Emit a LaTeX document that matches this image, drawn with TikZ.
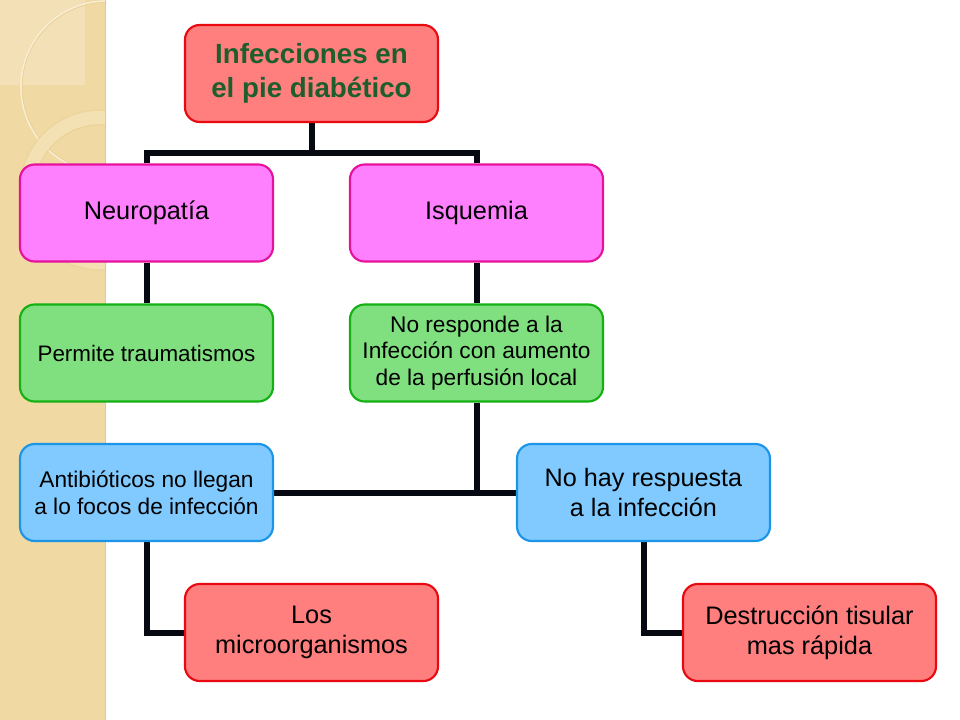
\documentclass[tikz,border=0pt]{standalone}
\usepackage{fontspec}
\setmainfont{Liberation Sans}
\definecolor{strip}{HTML}{F0D9A2}
\definecolor{stripl}{HTML}{F3E0B6}
\definecolor{redf}{HTML}{FF7F7F}
\definecolor{redd}{HTML}{E80A10}
\definecolor{pinkf}{HTML}{FF80FF}
\definecolor{pinkd}{HTML}{E6129C}
\definecolor{greenf}{HTML}{80E080}
\definecolor{greend}{HTML}{14B014}
\definecolor{bluef}{HTML}{80CAFF}
\definecolor{blued}{HTML}{1C94E8}
\definecolor{linec}{HTML}{060812}
\definecolor{titlec}{HTML}{1E5E2C}
\pgfdeclarelayer{bg}
\pgfdeclarelayer{lines}
\pgfsetlayers{bg,lines,main}
\tikzset{
  box/.style={rounded corners=11pt, line width=1.6pt, minimum width=189.75pt,
    minimum height=72.75pt, align=center, inner sep=2pt},
  redbox/.style={box, fill=redf, draw=redd},
  pinkbox/.style={box, fill=pinkf, draw=pinkd},
  greenbox/.style={box, fill=greenf, draw=greend},
  bluebox/.style={box, fill=bluef, draw=blued},
  conn/.style={draw=linec, line width=4.5pt, line join=miter},
  big/.style={font=\fontsize{19}{22.5}\selectfont},
  mid/.style={font=\fontsize{17}{20}\selectfont},
}
\begin{document}
\begin{tikzpicture}[x=0.75pt,y=-0.75pt]
\useasboundingbox (0,0) rectangle (960,720);
\begin{pgfonlayer}{bg}
  \fill[white] (0,0) rectangle (960,720);
  \fill[strip] (0,0) rectangle (106,720);
  \fill[stripl] (0,0) rectangle (85,85);
  \begin{scope}
    \clip (0,0) rectangle (106,720);
    \draw[white!55!strip, line width=1.2pt] (107,87) circle (86);
    \draw[strip!88!brown, line width=0.5pt] (107,87) circle (84.8);
    \draw[white!18!strip, line width=10pt] (100,190) circle (72.5);
    \draw[strip!88!brown, line width=0.5pt] (100,190) circle (65);
    \draw[strip!92!brown, line width=0.5pt] (100,190) circle (80);
  \end{scope}
  \draw[strip!80!brown, line width=0.8pt] (105.5,0) -- (105.5,720);
\end{pgfonlayer}

\node[redbox, font=\bfseries\fontsize{20.8}{25.5}\selectfont, text=titlec] (top) at (311.5,73.5) {Infecciones en\\el pie diabético};
\node[pinkbox, big] (neuro) at (146.5,213) {Neuropatía};
\node[pinkbox, big] (isq) at (476.5,213) {Isquemia};
\node[greenbox, font=\fontsize{16.8}{20}\selectfont] (perm) at (146.5,353) {Permite traumatismos};
\node[greenbox, mid] (resp) at (476.5,353) {No responde a la\\Infección con aumento\\de la perfusión local};
\node[bluebox, mid] (anti) at (146.5,492.5) {Antibióticos no llegan\\a lo focos de infección};
\node[bluebox, font=\fontsize{18.9}{22.5}\selectfont] (nohay) at (643.5,492.5) {No hay respuesta\\a la infección};
\node[redbox, big] (micro) at (311.5,632.5) {Los\\microorganismos};
\node[redbox, big] (destr) at (809.5,632.5) {Destrucción tisular\\mas rápida};

\coordinate (j1) at (311.5,153);
\begin{pgfonlayer}{lines}
  \draw[conn] (top.south) -- (j1);
  \draw[conn] (neuro.north) |- (j1) -| (isq.north);
  \draw[conn] (neuro.south) -- (perm.north);
  \draw[conn] (isq.south) -- (resp.north);
  \draw[conn] (resp.south) -- (resp.south |- anti.east);
  \draw[conn] (anti.east) -- (nohay.west);
  \draw[conn] (anti.south) |- (micro.west);
  \draw[conn] (nohay.south) |- (destr.west);
\end{pgfonlayer}
\end{tikzpicture}
\end{document}
